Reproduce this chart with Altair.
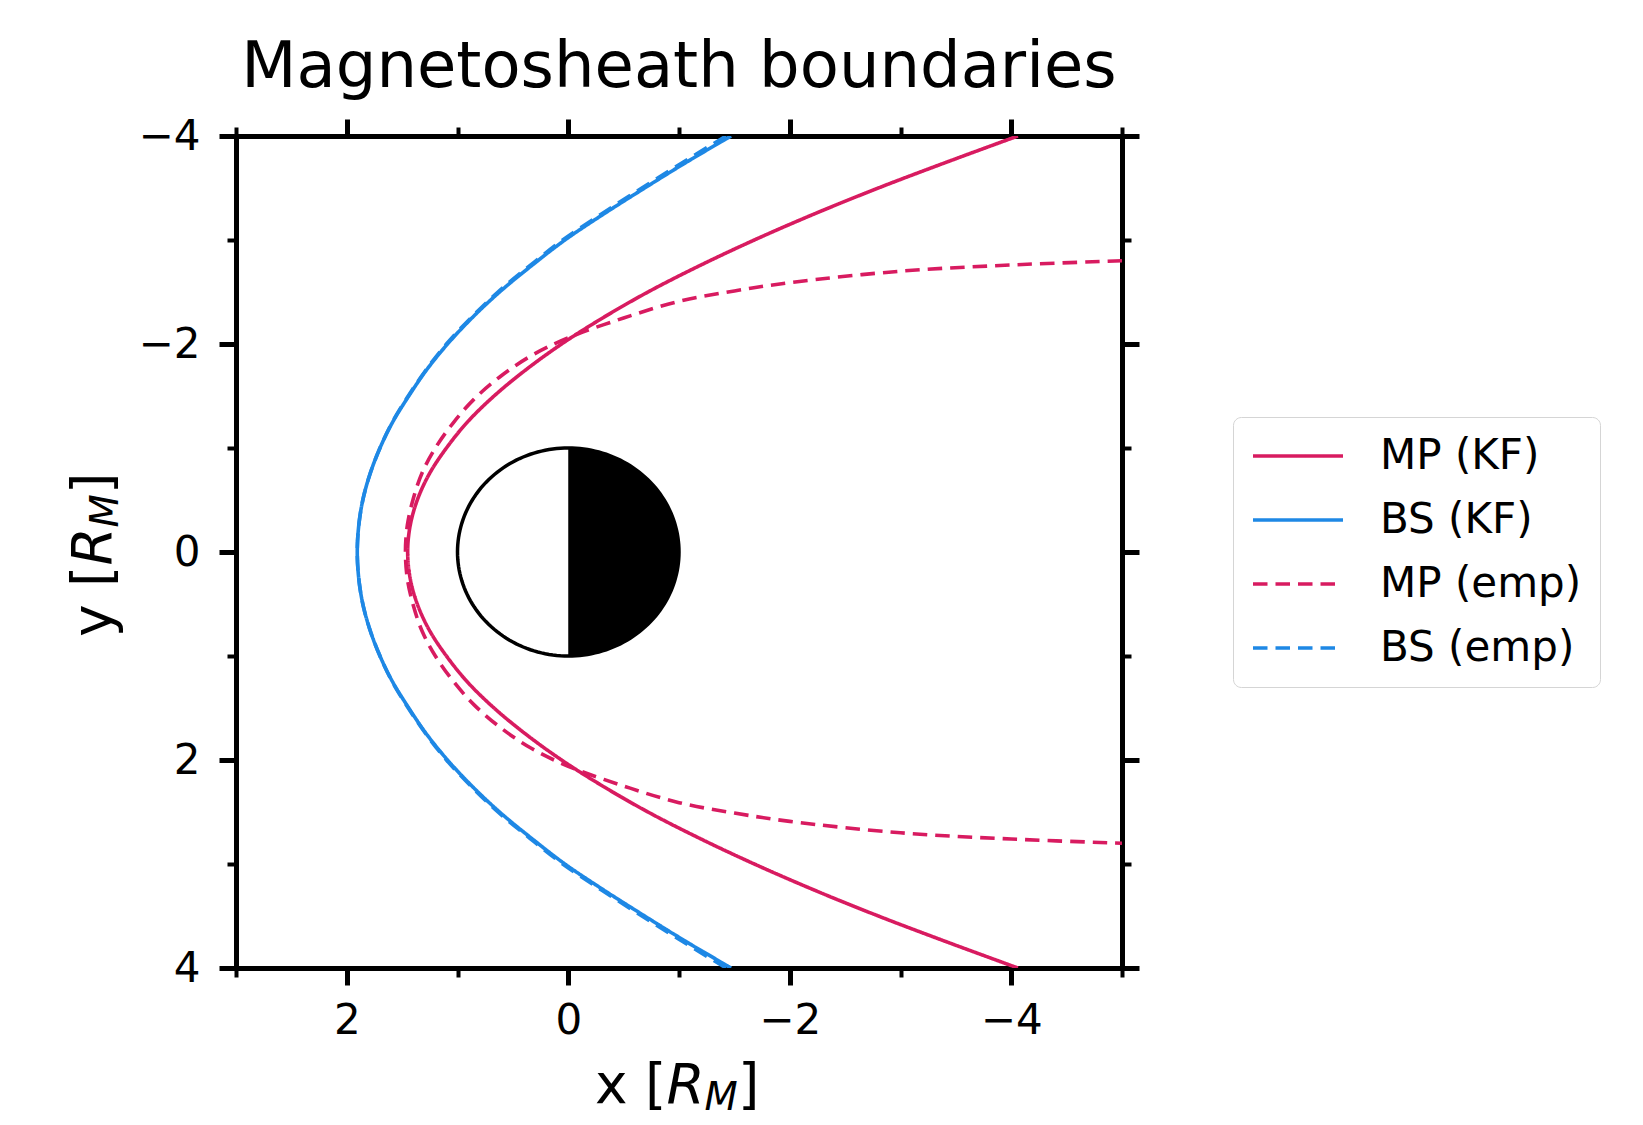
import altair as alt
import numpy as np
import pandas as pd

# ---------------- data ----------------
SERIES = ["MP (KF)", "BS (KF)", "MP (emp)", "BS (emp)"]
COLORS = ["#D81B60", "#1E88E5", "#D81B60", "#1E88E5"]
DASHES = [[1, 0], [1, 0], [14.5, 8], [14.5, 8]]

# sample heights (y) used for the KF magnetopause and both bow shocks
y_s = [-4, -3.75, -3.5, -3.25, -3, -2.75, -2.5, -2.25, -2, -1.75, -1.5, -1.25, -1, -0.75, -0.5, -0.25, 0,
       0.25, 0.5, 0.75, 1, 1.25, 1.5, 1.75, 2, 2.25, 2.5, 2.75, 3, 3.25, 3.5, 3.75, 4]
mp_kf_x = [-4.06, -3.42, -2.80, -2.22, -1.68, -1.18, -0.72, -0.31, 0.06, 0.385, 0.67, 0.91, 1.10, 1.255,
           1.363, 1.428, 1.45,
           1.428, 1.363, 1.255, 1.10, 0.91, 0.67, 0.385, 0.06, -0.31, -0.72, -1.18, -1.68, -2.22, -2.80,
           -3.42, -4.06]
bs_kf_x = [-1.47, -1.07, -0.69, -0.32, 0.03, 0.335, 0.62, 0.87, 1.09, 1.28, 1.44, 1.585, 1.70, 1.79,
           1.855, 1.892, 1.905,
           1.892, 1.855, 1.79, 1.70, 1.585, 1.44, 1.28, 1.09, 0.87, 0.62, 0.335, 0.03, -0.32, -0.69,
           -1.07, -1.47]
bs_emp_x = [-1.425, -1.04, -0.665, -0.30, 0.05, 0.35, 0.635, 0.88, 1.10, 1.285, 1.445, 1.588, 1.70, 1.79,
            1.855, 1.892, 1.905,
            1.892, 1.855, 1.79, 1.70, 1.588, 1.445, 1.285, 1.10, 0.88, 0.635, 0.35, 0.05, -0.30, -0.665,
            -1.04, -1.425]
# empirical magnetopause, listed along the curve
mp_emp_x = [-5.0, -4.0, -3.0, -2.0, -1.5, -1.0, -0.5, 0.0, 0.33, 0.61, 0.85, 1.04, 1.2, 1.32, 1.40, 1.453,
            1.47,
            1.453, 1.40, 1.32, 1.2, 1.04, 0.85, 0.61, 0.33, 0.0, -0.5, -1.0, -1.5, -2.0, -3.0, -4.0, -5.0]
mp_emp_y = [-2.80, -2.76, -2.70, -2.59, -2.51, -2.41, -2.25, -2.06, -1.89, -1.69, -1.47, -1.24, -1.0,
            -0.76, -0.51, -0.256, 0.0,
            0.256, 0.51, 0.76, 1.0, 1.24, 1.47, 1.69, 1.89, 2.06, 2.25, 2.41, 2.51, 2.59, 2.70, 2.76, 2.80]

x_major = [2, 0, -2, -4]
x_minor = [3, 1, -1, -3, -5]
y_major = [-4, -2, 0, 2, 4]
y_minor = [-3, -1, 1, 3]

rows = []
for name, xs, ys in [("MP (KF)", mp_kf_x, y_s), ("BS (KF)", bs_kf_x, y_s),
                     ("MP (emp)", mp_emp_x, mp_emp_y), ("BS (emp)", bs_emp_x, y_s)]:
    for i, (xv, yv) in enumerate(zip(xs, ys)):
        rows.append({"series": name, "x": xv, "y": yv, "i": i})
curves = pd.DataFrame(rows)

# Mercury: unit circle (radius 1 R_M), night side filled
ang = np.linspace(0, 2 * np.pi, 181)
planet = pd.DataFrame({"x": np.cos(ang), "y": np.sin(ang), "i": np.arange(len(ang))})
yy = np.linspace(-1, 1, 121)
night = pd.DataFrame({"y": yy, "x": -np.sqrt(np.clip(1 - yy ** 2, 0, None)), "x2": 0.0})

# ---------------- styling ----------------
FONT = "DejaVu Sans"
W, H = 886, 832
xs_ = alt.Scale(domain=[-5, 3], reverse=True, nice=False, zero=False)
ys_ = alt.Scale(domain=[-4, 4], reverse=True, nice=False, zero=False)

common = dict(grid=False, title=None, domainColor="black", tickColor="black")


def major_axis(orient, values, labels, pad):
    kw = dict(common)
    kw.update(orient=orient, values=values, tickSize=17, tickWidth=5, domain=True,
              domainWidth=5, domainCap="square", labels=labels)
    if labels:
        kw.update(labelFont=FONT, labelFontSize=42, labelColor="black",
                  labelPadding=pad, labelFlush=False, labelOverlap=False)
    return alt.Axis(**kw)


def minor_axis(orient, values):
    kw = dict(common)
    kw.update(orient=orient, values=values, tickSize=9, tickWidth=4,
              domain=False, labels=False)
    return alt.Axis(**kw)


legend = alt.Legend(title=None, orient="none", legendX=997, legendY=281,
                    padding=18, rowPadding=22, clipHeight=42, cornerRadius=8,
                    strokeColor="#d5d5d5", fillColor="white",
                    labelFont=FONT, labelFontSize=42, labelColor="black", labelLimit=500,
                    labelOffset=35, symbolType="stroke", symbolSize=8100,
                    symbolStrokeWidth=3.6)

lines = alt.Chart(curves).mark_line(strokeWidth=3.6, interpolate="catmull-rom", clip=True).encode(
    x=alt.X("x:Q", scale=xs_, axis=major_axis("bottom", x_major, True, 15)),
    y=alt.Y("y:Q", scale=ys_, axis=major_axis("left", y_major, True, 19)),
    color=alt.Color("series:N", scale=alt.Scale(domain=SERIES, range=COLORS), legend=legend),
    strokeDash=alt.StrokeDash("series:N", scale=alt.Scale(domain=SERIES, range=DASHES), legend=legend),
    order=alt.Order("i:Q"),
)

night_fill = alt.Chart(night).mark_area(orient="horizontal", color="black").encode(
    y=alt.Y("y:Q", scale=ys_, axis=minor_axis("left", y_minor)),
    x=alt.X("x:Q", scale=xs_, axis=minor_axis("bottom", x_minor)),
    x2="x2:Q",
)

outline = alt.Chart(planet).mark_line(color="black", strokeWidth=3.5).encode(
    x=alt.X("x:Q", scale=xs_, axis=major_axis("top", x_major, False, 0)),
    y=alt.Y("y:Q", scale=ys_, axis=major_axis("right", y_major, False, 0)),
    order=alt.Order("i:Q"),
)

minor_tr = alt.Chart(planet).mark_point(opacity=0).encode(
    x=alt.X("x:Q", scale=xs_, axis=minor_axis("top", x_minor)),
    y=alt.Y("y:Q", scale=ys_, axis=minor_axis("right", y_minor)),
)

one = pd.DataFrame({"a": [0]})


def txt(text, x, y, size, italic=False, angle=0):
    kw = dict(text=text, font=FONT, fontSize=size, align="left", baseline="alphabetic",
              color="black", angle=angle)
    if italic:
        kw["fontStyle"] = "italic"
    return alt.Chart(one).mark_text(**kw).encode(x=alt.value(x), y=alt.value(y))


# x label  "x [R_M]"
xl = [txt("x [", 359, 967, 55), txt("R", 430.5, 967, 55, True),
      txt("M", 468.5, 974, 38.5, True), txt("]", 502, 967, 55)]
# y label  "y [R_M]" rotated
yl = [txt("y [", -125, 501, 55, angle=270), txt("R", -125, 429.5, 55, True, 270),
      txt("M", -118, 391.5, 38.5, True, 270), txt("]", -125, 358, 55, angle=270)]

chart = alt.layer(night_fill, outline, minor_tr, lines, *xl, *yl).resolve_axis(
    x="independent", y="independent"
).properties(
    width=W, height=H,
    title=alt.TitleParams("Magnetosheath boundaries", font=FONT, fontSize=64,
                          fontWeight="normal", color="black", anchor="middle",
                          frame="group", baseline="alphabetic", offset=-36),
    autosize=alt.AutoSizeParams(type="none"),
    padding={"left": 228, "top": 128, "right": 500, "bottom": 150},
    background="white",
).configure_view(stroke=None)

chart.save("out.html", embed_options={"renderer": "svg", "actions": False})
